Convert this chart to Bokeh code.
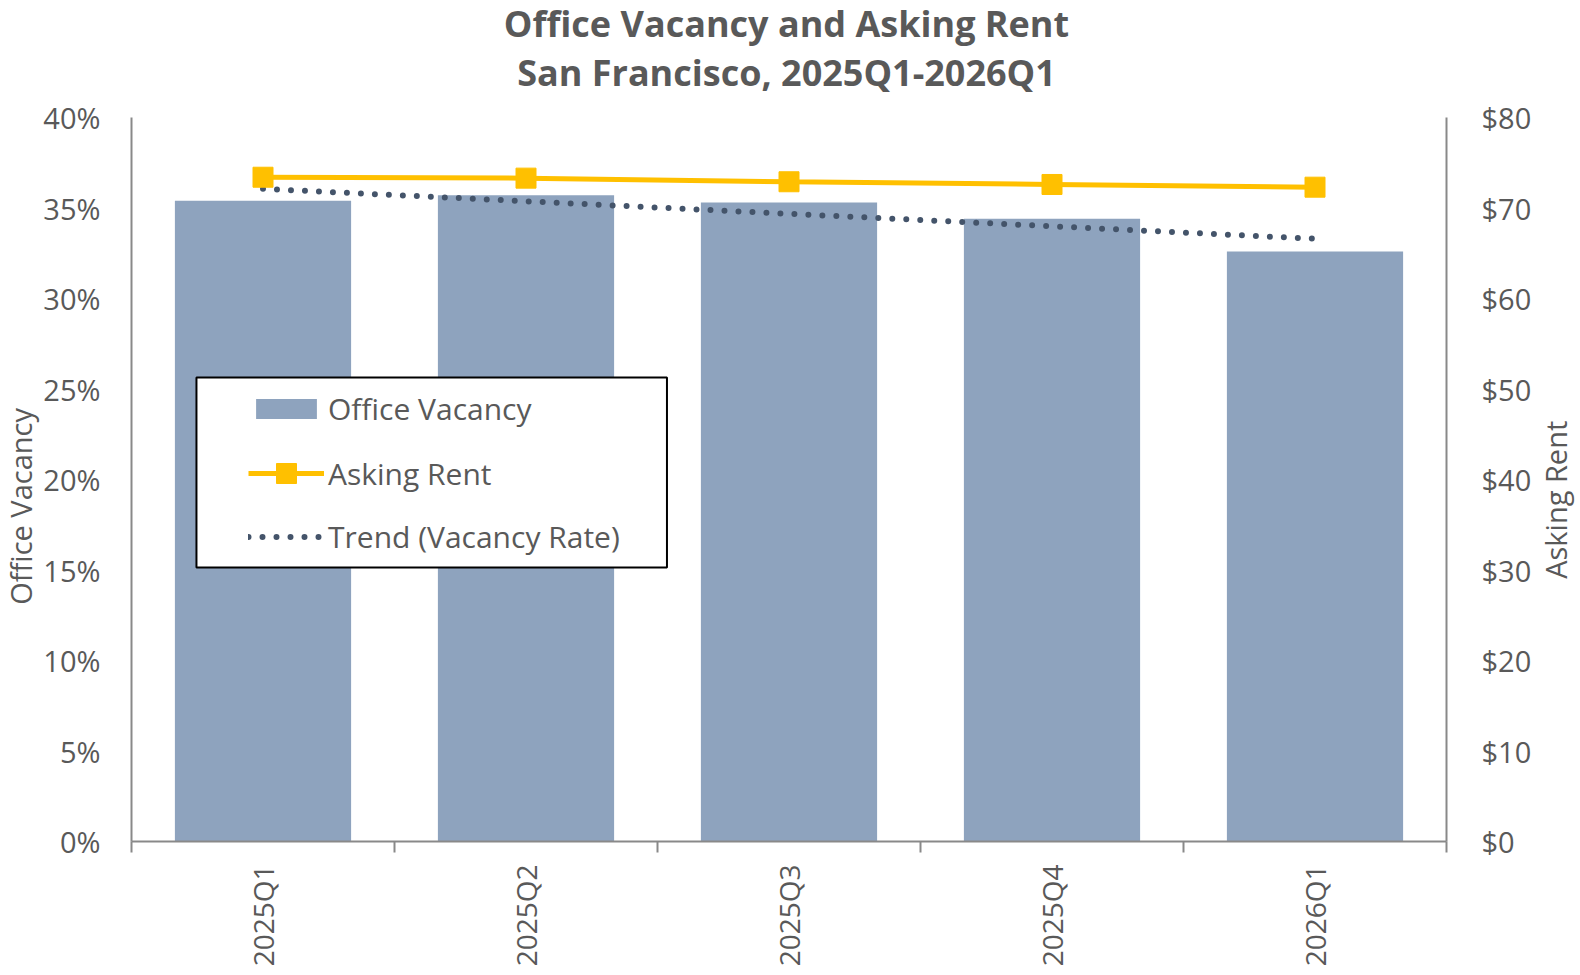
import math
import numpy as np
from bokeh.plotting import figure
from bokeh.layouts import column, row
from bokeh.core.properties import value
from bokeh.models import (Range1d, LinearAxis, FixedTicker, PrintfTickFormatter,
                          Legend, LegendItem, BoxAnnotation, ColumnDataSource)
from bokeh.embed import file_html
from bokeh.resources import INLINE

# ---------------- data ----------------
quarters = ["2025Q1", "2025Q2", "2025Q3", "2025Q4", "2026Q1"]
vacancy = [35.4, 35.7, 35.3, 34.4, 32.6]          # percent
asking_rent = [73.4, 73.3, 72.9, 72.6, 72.3]      # $ per sq ft
vac_ticks = [0, 5, 10, 15, 20, 25, 30, 35, 40]
rent_ticks = [0, 10, 20, 30, 40, 50, 60, 70, 80]
title_lines = ["Office Vacancy and Asking Rent", "San Francisco, 2025Q1-2026Q1"]
y_label_left = "Office Vacancy"
y_label_right = "Asking Rent"

# ---------------- styles / layout ----------------
FONT = "Open Sans"
TXT = "#595959"
AXC = "#898989"
BAR_C = "#8EA3BE"
RENT_C = "#FFC000"
TREND_C = "#44546A"

TOTAL_W = 1576
TITLE_H = 97
BODY_H = 875
LEFT_W = 40
RIGHT_W = 42
MAIN_W = TOTAL_W - LEFT_W - RIGHT_W


def text_panel(w, h):
    f = figure(width=w, height=h, x_range=Range1d(0, w), y_range=Range1d(0, h),
               min_border=0, toolbar_location=None, output_backend="svg",
               x_axis_location=None, y_axis_location=None)
    f.outline_line_color = None
    f.grid.visible = False
    f.background_fill_color = "white"
    f.border_fill_color = "white"
    return f


xs = list(range(1, len(quarters) + 1))
slope, icept = np.polyfit(xs, vacancy, 1)
trend = [slope * xi + icept for xi in xs]

src = ColumnDataSource(dict(x=xs, vac=vacancy, rent=asking_rent, trend=trend))

p = figure(width=MAIN_W, height=BODY_H, output_backend="svg", toolbar_location=None,
           title=None,
           x_range=Range1d(0.5, len(quarters) + 0.5), y_range=Range1d(vac_ticks[0], vac_ticks[-1]),
           min_border_left=91, min_border_right=87, min_border_top=20, min_border_bottom=131)
p.extra_y_ranges = {"rent": Range1d(rent_ticks[0], rent_ticks[-1])}
p.xgrid.visible = False
p.ygrid.visible = False
p.outline_line_color = None
p.background_fill_color = "white"
p.border_fill_color = "white"

bars = p.vbar(x="x", top="vac", width=0.67, source=src, fill_color=BAR_C, line_color=None)
trend_r = p.line(x="x", y="trend", source=src, line_color=TREND_C, line_width=6,
                 line_dash="0 14", line_cap="round")
rent_l = p.line(x="x", y="rent", source=src, y_range_name="rent", line_color=RENT_C, line_width=5)
rent_m = p.scatter(x="x", y="rent", source=src, y_range_name="rent", marker="square",
                   size=20, fill_color=RENT_C, line_color=RENT_C)

# x axis
xa = p.xaxis[0]
xa.ticker = FixedTicker(ticks=xs, minor_ticks=[i + 0.5 for i in range(len(quarters) + 1)])
xa.major_label_overrides = {xi: q for xi, q in zip(xs, quarters)}
xa.major_label_orientation = math.pi / 2
xa.major_tick_out = 0
xa.major_tick_in = 0
xa.minor_tick_out = 11
xa.minor_tick_in = 0
xa.minor_tick_line_color = AXC
xa.minor_tick_line_width = 2
xa.axis_line_color = AXC
xa.axis_line_width = 2
xa.major_label_standoff = 12
xa.major_label_text_font = FONT
xa.major_label_text_font_size = "28px"
xa.major_label_text_color = TXT

# left axis
ya = p.yaxis[0]
ya.ticker = FixedTicker(ticks=vac_ticks, minor_ticks=[])
ya.formatter = PrintfTickFormatter(format="%d%%")
ya.major_tick_out = 0
ya.major_tick_in = 0
ya.minor_tick_out = 0
ya.minor_tick_in = 0
ya.axis_line_color = AXC
ya.axis_line_width = 2
ya.major_label_standoff = 31
ya.major_label_text_font = FONT
ya.major_label_text_font_size = "29px"
ya.major_label_text_color = TXT

# right axis
ra = LinearAxis(y_range_name="rent", ticker=FixedTicker(ticks=rent_ticks, minor_ticks=[]),
                formatter=PrintfTickFormatter(format="$%d"))
ra.major_tick_out = 0
ra.major_tick_in = 0
ra.minor_tick_out = 0
ra.minor_tick_in = 0
ra.axis_line_color = AXC
ra.axis_line_width = 2
ra.major_label_standoff = 35
ra.major_label_text_font = FONT
ra.major_label_text_font_size = "29px"
ra.major_label_text_color = TXT
p.add_layout(ra, "right")

# legend frame (white box with black border)
box = BoxAnnotation(left=0.747, right=2.536, top=25.64, bottom=15.14,
                    fill_color="white", fill_alpha=1.0, line_color="black", line_alpha=1.0,
                    line_width=2, level="annotation")
p.add_layout(box)

leg_common = dict(padding=0, margin=0, border_line_color=None, background_fill_alpha=0,
                  label_text_font=FONT, label_text_font_size="30px", label_text_color=TXT,
                  label_standoff=4, glyph_width=76, label_height=40)
legA = Legend(items=[LegendItem(label="Office Vacancy", renderers=[bars]),
                     LegendItem(label="Trend (Vacancy Rate)", renderers=[trend_r])],
              location=(117, 284), glyph_height=25, spacing=87, **leg_common)
legB = Legend(items=[LegendItem(label="Asking Rent", renderers=[rent_l, rent_m])],
              location=(117, 343), glyph_height=50, spacing=0, **leg_common)
p.add_layout(legA)
p.add_layout(legB)

# ---------------- title panel ----------------
tf = text_panel(TOTAL_W, TITLE_H)
tf.text(x=[786, 786], y=[TITLE_H - 23, TITLE_H - 72], text=title_lines,
        text_font=value(FONT), text_font_size=value("36px"), text_font_style="bold",
        text_color=TXT, text_align="center", text_baseline="middle")

# ---------------- axis title panels ----------------
lf = text_panel(LEFT_W, BODY_H)
lf.text(x=[20], y=[405], text=[y_label_left], angle=math.pi / 2,
        text_font=value(FONT), text_font_size=value("29px"), text_color=TXT,
        text_align="center", text_baseline="middle")

rf = text_panel(RIGHT_W, BODY_H)
rf.text(x=[21], y=[413], text=[y_label_right], angle=math.pi / 2,
        text_font=value(FONT), text_font_size=value("29px"), text_color=TXT,
        text_align="center", text_baseline="middle")

layout = column(tf, row(lf, p, rf, spacing=0), spacing=0)

open("out.html", "w").write(file_html(layout, INLINE))
